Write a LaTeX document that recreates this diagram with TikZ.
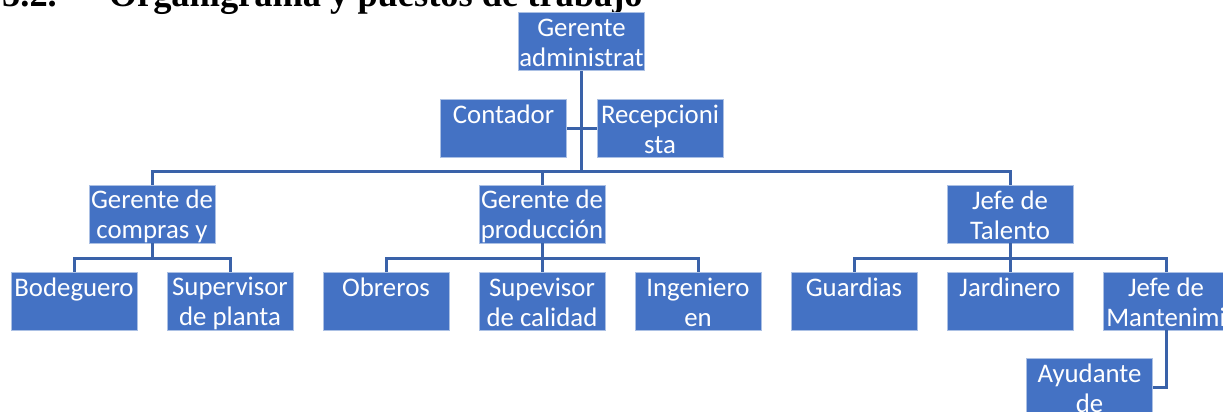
\documentclass[tikz,border=0pt]{standalone}
\usepackage{fontspec}
\setmainfont{Carlito}
\newfontfamily\titulofont{Liberation Serif}
\usetikzlibrary{positioning}
\definecolor{cajaazul}{HTML}{4472C4}
\definecolor{lineaazul}{HTML}{3A62A9}
\tikzstyle{puesto} = [rectangle, minimum width=126pt, minimum height=58pt, inner sep=0pt, align=center, draw=white!55!cajaazul, line width=0.6pt, fill=cajaazul, text=white, font=\fontsize{26.8}{30}\selectfont]
\tikzstyle{linea} = [lineaazul, line width=3pt]
\newcommand{\dos}[2]{\rule{0pt}{24pt}#1\\#2\rule[-4pt]{0pt}{4pt}}

\begin{document}
\begin{tikzpicture}[x=1pt,y=1pt,node distance=156pt]
\useasboundingbox (0,0) rectangle (1223,-412);

\node (titulo) [anchor=base west, inner sep=0pt, font=\titulofont\bfseries\fontsize{36.4}{40}\selectfont] at (2,-7) {5.2.\hspace{52pt}Organigrama y puestos de trabajo};

\node (ga) [puesto] at (581.5,-41.5) {\dos{Gerente}{administrat}};
\node (cont) [puesto] at (503.5,-128) {\dos{Contador}{}};
\node (recep) [puesto] at (660,-128) {\dos{Recepcioni}{sta}};

\node (bod) [puesto] at (74,-301) {\dos{Bodeguero}{}};
\node (supp) [puesto, right of=bod] {\dos{Supervisor}{de planta}};
\node (obr) [puesto, right of=supp] {\dos{Obreros}{}};
\node (supc) [puesto, right of=obr] {\dos{Supevisor}{de calidad}};
\node (ing) [puesto, right of=supc] {\dos{Ingeniero}{en}};
\node (guar) [puesto, right of=ing] {\dos{Guardias}{}};
\node (jard) [puesto, right of=guar] {\dos{Jardinero}{}};
\node (jman) [puesto, right of=jard] {\dos{Jefe de}{Mantenimi}};
\node (ayu) [puesto] at (1089.5,-387) {\dos{Ayudante}{de}};

\node (comp) [puesto] at (152,-214) {\dos{Gerente de}{compras y}};
\node (prod) [puesto, above of=supc, node distance=87pt] {\dos{Gerente de}{producción}};
\node (tal) [puesto, above of=jard, node distance=87pt] {\dos{Jefe de}{Talento}};

\coordinate (bus) at (581.5,-171);

\draw [linea] (ga.south) -- (bus);
\draw [linea] (cont.east) -- (recep.west);
\draw [linea] (comp.north) |- (bus) -| (tal.north);
\draw [linea] (prod.north) -- (prod.north |- bus);

\draw [linea] (comp.south) -- ++(0,-15) -| (bod.north);
\draw [linea] (comp.south) -- ++(0,-15) -| (supp.north);
\draw [linea] (prod.south) -- ++(0,-15) -| (obr.north);
\draw [linea] (prod.south) -- (supc.north);
\draw [linea] (prod.south) -- ++(0,-15) -| (ing.north);
\draw [linea] (tal.south) -- ++(0,-15) -| (guar.north);
\draw [linea] (tal.south) -- (jard.north);
\draw [linea] (tal.south) -- ++(0,-15) -| (jman.north);
\draw [linea] (jman.south) |- (ayu.east);

\end{tikzpicture}
\end{document}
